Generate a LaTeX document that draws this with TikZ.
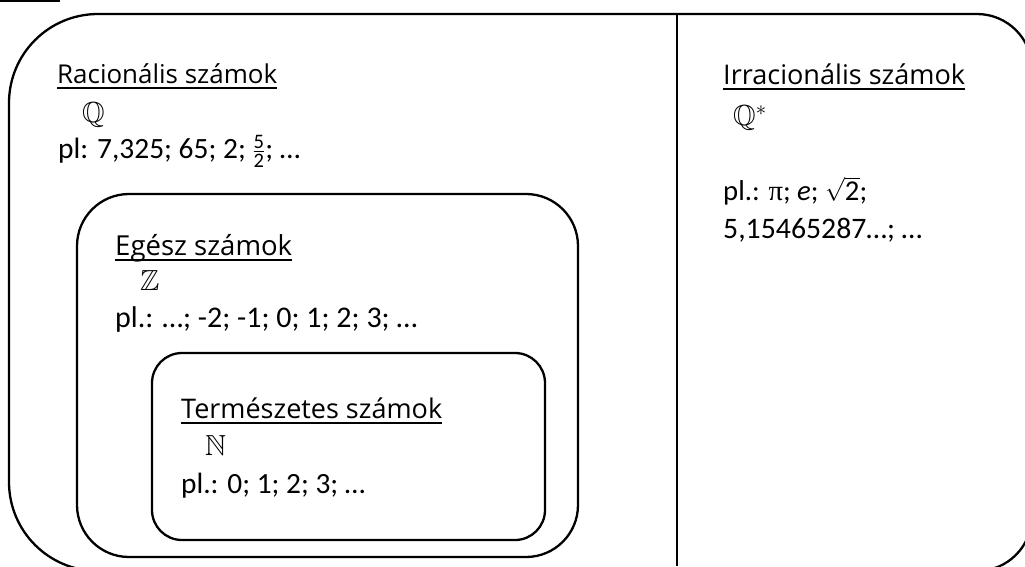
\documentclass[tikz,border=0pt]{standalone}
\usepackage{amsmath,amssymb}
\usepackage{fontspec}
\setmainfont{Carlito}
\newfontfamily\hdrfont{Open Sans}
\newfontfamily\grkfont{Liberation Serif}
\begin{document}
\begin{tikzpicture}[x=1pt,y=-1pt,
  frame/.style={draw, line width=2.3pt},
  setbox/.style={draw, line width=2.3pt, rectangle, rounded corners=#1, inner sep=0pt},
  hdr/.style={anchor=base west, inner sep=0pt, font=\hdrfont},
  txt/.style={anchor=base west, inner sep=0pt},
  sym/.style={anchor=base west, inner sep=0pt, font=\fontsize{29}{30}\selectfont},
  uline/.style={line width=2.6pt}]
\useasboundingbox (0,0) rectangle (1025,566);
\clip (0,0) rectangle (1025,566);
% outer frame
\draw[frame] (98,14) -- (977,14) .. controls (1007.4,14) and (1032,38.6) .. (1032,69)
  -- (1032,516) .. controls (1032,546.4) and (1007.4,571) .. (977,571)
  -- (98,571) .. controls (48.8,571) and (9,531.2) .. (9,482)
  -- (9,103) .. controls (9,53.8) and (48.8,14) .. (98,14) -- cycle;
\coordinate (topl) at (0,0.8);
\coordinate (topr) at (60,0.8);
\draw[line width=1.8pt] (topl) -- (topr);
\coordinate (vtop) at (677,14);
\coordinate (vbot) at (677,566);
\draw[line width=2pt] (vtop) -- (vbot);
% nested boxes
\node[setbox=52pt, minimum width=501pt, minimum height=363pt] (egesz) at (327.5,375.5) {};
\node[setbox=30pt, minimum width=393pt, minimum height=187pt] (term) at (348.5,446.5) {};
% Racionalis
\node[hdr] (hq) at (57,83) {\resizebox{220pt}{!}{Racionális számok}};
\draw[uline] ([yshift=-5pt]hq.base west) -- ([yshift=-5pt]hq.base east);
\node[sym] (sq) at (82,122) {$\mathbb{Q}$};
\node[txt] (pq) at (58,158) {\resizebox{242pt}{!}{\fontsize{30}{36}\selectfont pl: 7,325; 65; 2; $\frac{\text{5}}{\text{2}}$; …}};
% Egesz
\node[hdr] (hz) at (115,255) {\resizebox{177pt}{!}{Egész számok}};
\draw[uline] ([yshift=-5pt]hz.base west) -- ([yshift=-5pt]hz.base east);
\node[sym] (sz) at (140,290) {$\mathbb{Z}$};
\node[txt] (pz) at (115,327) {\resizebox{302pt}{!}{\fontsize{30}{36}\selectfont pl.: …; -2; -1; 0; 1; 2; 3; …}};
% Termeszetes
\node[hdr] (hn) at (181,418) {\resizebox{261pt}{!}{Természetes számok}};
\draw[uline] ([yshift=-5pt]hn.base west) -- ([yshift=-5pt]hn.base east);
\node[sym] (sn) at (205,455) {$\mathbb{N}$};
\node[txt] (pn) at (181,493) {\resizebox{184pt}{!}{\fontsize{30}{36}\selectfont pl.: 0; 1; 2; 3; …}};
% Irracionalis
\node[hdr] (hi) at (723,84) {\resizebox{242pt}{!}{Irracionális számok}};
\draw[uline] ([yshift=-5pt]hi.base west) -- ([yshift=-5pt]hi.base east);
\node[sym] (si) at (733,125) {$\mathbb{Q}^{*}$};
\node[txt] (pi1) at (723,200) {\resizebox{144pt}{!}{\fontsize{30}{36}\selectfont pl.: {\grkfont π}; \textit{e}; $\sqrt{\text{2}}$;}};
\node[txt] (pi2) at (723,238) {\resizebox{199pt}{!}{\fontsize{30}{36}\selectfont 5,15465287…; …}};
\end{tikzpicture}
\end{document}
